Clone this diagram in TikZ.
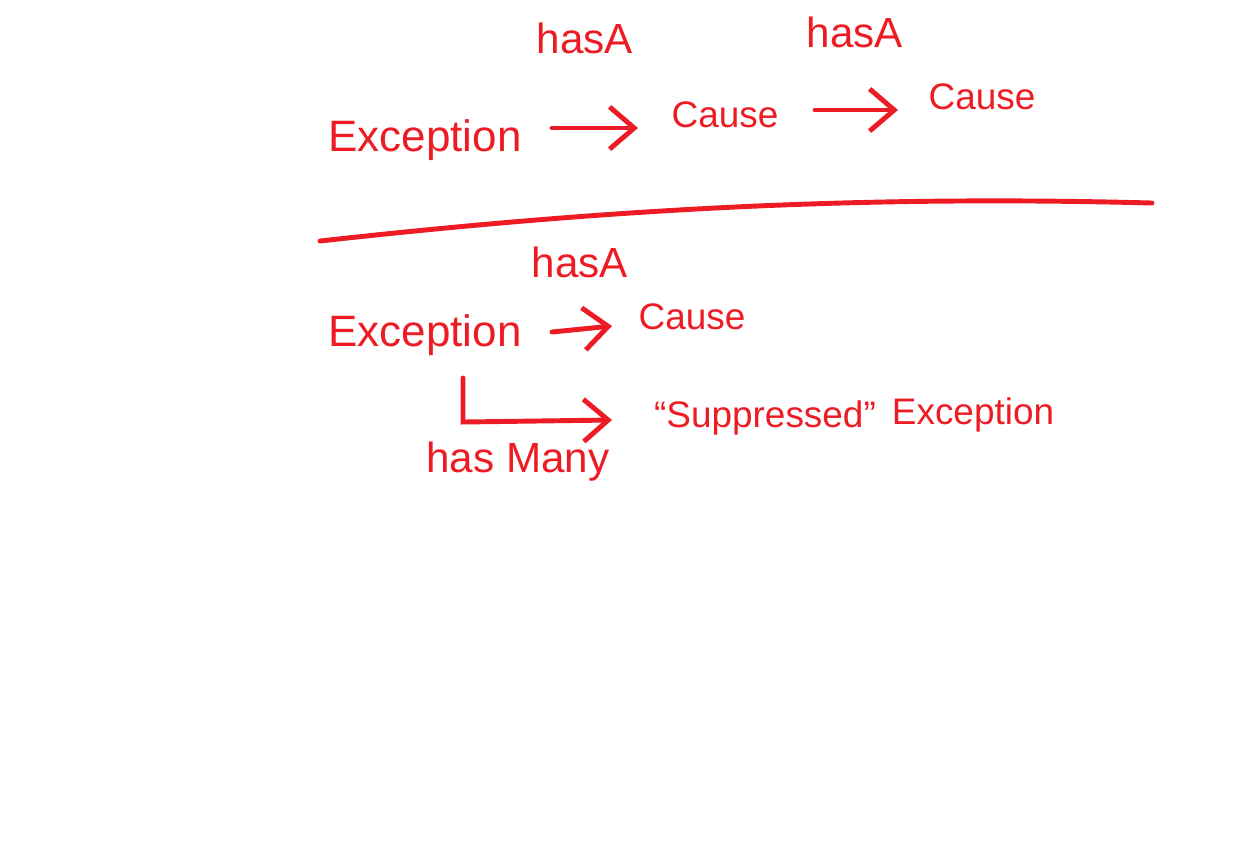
\documentclass[tikz,border=0pt]{standalone}
\usepackage{fontspec}
\setmainfont{Liberation Sans}
\usetikzlibrary{arrows.meta}
\definecolor{ink}{RGB}{237,28,36}
\begin{document}
\begin{tikzpicture}[x=0.01cm,y=-0.01cm,
  word/.style={text=ink, inner sep=0pt, font=\fontsize{10.5}{12}\selectfont},
  big/.style={word, font=\fontsize{12.5}{15}\selectfont},
  lab/.style={word, font=\fontsize{12}{14}\selectfont},
  link/.style={draw=ink, line width=1.4pt, line cap=round, -{Straight Barb[length=7pt,width=12pt]}},
  rule/.style={draw=ink, line width=1.4pt, line cap=round}]
\useasboundingbox (0,0) rectangle (1254,841);
% top row
\node[big] (e1) at (425,140) {Exception};
\node[word] (c1) at (725,115) {Cause};
\node[word] (c2) at (982,97) {Cause};
\node[lab] (h1) at (585,38) {hasA};
\node[lab] (h2) at (855,32) {hasA};
\coordinate (a1s) at (552,128);
\coordinate (a1e) at (638,128);
\coordinate (a2s) at (815,110);
\coordinate (a2e) at (898,110);
\draw[link] (a1s) -- (a1e);
\draw[link] (a2s) -- (a2e);
% divider
\coordinate (l1) at (320,241);
\coordinate (l2) at (1152,203);
\draw[rule] (l1) .. controls (600,210) and (850,195) .. (l2);
% bottom
\node[lab] (h3) at (580,262) {hasA};
\node[big] (e2) at (425,335) {Exception};
\node[word] (c3) at (692,317) {Cause};
\coordinate (a3s) at (552,332);
\coordinate (a3e) at (612,326);
\draw[link] (a3s) -- (a3e);
\coordinate (b1) at (463,378);
\coordinate (b2) at (463,422);
\coordinate (b3) at (612,420);
\draw[link] (b1) -- (b2) -- (b3);
\node[word] (s) at (765,418) {``Suppressed''};
\node[word] (e3) at (973,415) {Exception};
\node[lab] (hm) at (518,462) {has Many};
\end{tikzpicture}
\end{document}
